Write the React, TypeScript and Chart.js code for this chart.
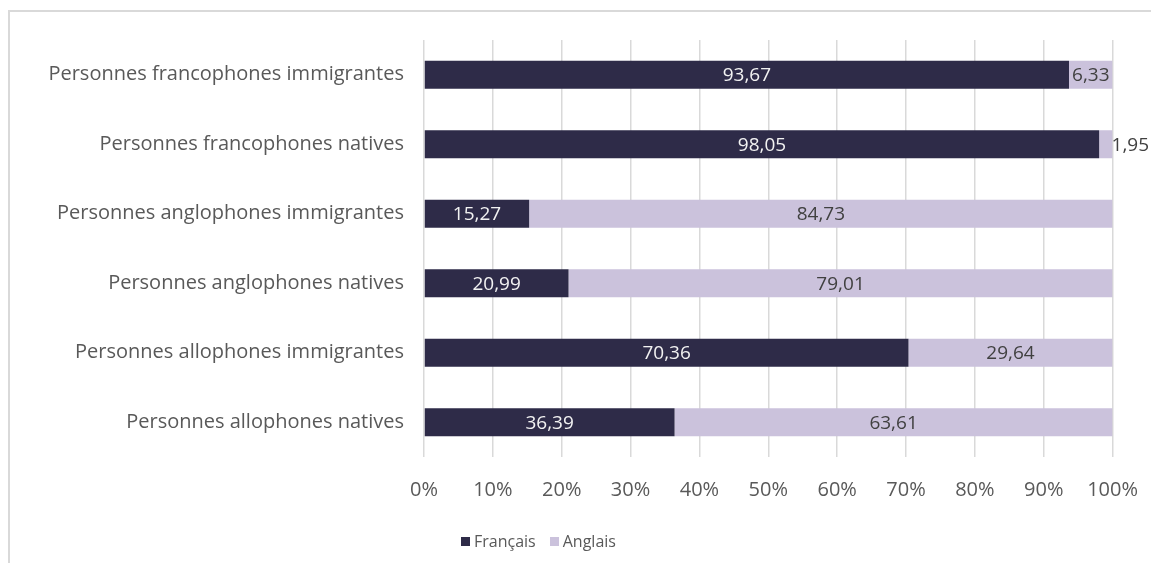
import React, { useEffect, useRef } from "react";
import { Chart, registerables } from "chart.js";

Chart.register(...registerables);

const categories = [
  "Personnes francophones immigrantes",
  "Personnes francophones natives",
  "Personnes anglophones immigrantes",
  "Personnes anglophones natives",
  "Personnes allophones immigrantes",
  "Personnes allophones natives",
];
const francais = [93.67, 98.05, 15.27, 20.99, 70.36, 36.39];
const anglais = [6.33, 1.95, 84.73, 79.01, 29.64, 63.61];
const seriesNames = ["Français", "Anglais"];
const xTicks = [0, 10, 20, 30, 40, 50, 60, 70, 80, 90, 100];

const DARK = "#2e2b48";
const LIGHT = "#cbc2dc";
const TEXT = "#595959";
const FONT = "'Open Sans', Lato, sans-serif";

const labelPlugin = {
  id: "segLabels",
  afterDatasetsDraw(chart: any) {
    const ctx = chart.ctx;
    ctx.save();
    ctx.font = `19px ${FONT}`;
    ctx.textBaseline = "middle";
    chart.data.datasets.forEach((ds: any, i: number) => {
      const meta = chart.getDatasetMeta(i);
      meta.data.forEach((el: any, j: number) => {
        const v = ds.data[j];
        const txt = v.toFixed(2).replace(".", ",");
        const w = ctx.measureText(txt).width;
        const left = Math.min(el.x, el.base);
        const right = Math.max(el.x, el.base);
        if (w > right - left + 6) {
          ctx.fillStyle = "#404040";
          ctx.textAlign = "left";
          ctx.fillText(txt, right - 1, el.y + 1);
        } else {
          ctx.fillStyle = i === 0 ? "#f2f2f2" : "#404040";
          ctx.textAlign = "center";
          ctx.fillText(txt, (left + right) / 2, el.y + 1);
        }
      });
    });
    ctx.restore();
  },
};

export default function App() {
  const ref = useRef<HTMLCanvasElement>(null);
  useEffect(() => {
    if (!ref.current) return;
    const chart = new Chart(ref.current, {
      type: "bar",
      data: {
        labels: categories,
        datasets: [
          { label: seriesNames[0], data: francais, backgroundColor: DARK, barPercentage: 0.4, categoryPercentage: 1 },
          { label: seriesNames[1], data: anglais, backgroundColor: LIGHT, barPercentage: 0.4, categoryPercentage: 1 },
        ],
      },
      options: {
        indexAxis: "y",
        responsive: false,
        animation: false,
        layout: { padding: { top: 40, right: 44, left: 0, bottom: 0 } },
        plugins: { legend: { display: false }, tooltip: { enabled: false } },
        scales: {
          x: {
            stacked: true,
            min: 0,
            max: 100,
            afterBuildTicks(scale: any) {
              scale.ticks = xTicks.map((v) => ({ value: v }));
            },
            afterFit(scale: any) {
              scale.height = 571 - 457;
            },
            grid: { color: "#d9d9d9", lineWidth: 1.5, drawTicks: false },
            border: { display: false },
            ticks: {
              padding: 21,
              color: TEXT,
              font: { family: FONT, size: 20 },
              callback: (v: any) => `${v}%`,
            },
          },
          y: {
            stacked: true,
            afterFit(scale: any) {
              scale.width = 424;
            },
            grid: { display: false, drawTicks: false },
            border: { display: false },
            ticks: { padding: 20, color: TEXT, font: { family: FONT, size: 20 } },
          },
        },
      },
      plugins: [labelPlugin],
    });
    return () => chart.destroy();
  }, []);

  return (
    <div style={{ position: "relative", width: 1159, height: 571, margin: -8, overflow: "hidden", background: "#fff" }}>
      <div style={{ position: "absolute", left: 8, top: 10, right: 0, height: 2, background: "#d9d9d9" }} />
      <div style={{ position: "absolute", left: 8, top: 10, width: 2, bottom: 0, background: "#d9d9d9" }} />
      <canvas ref={ref} width={1159} height={571} style={{ position: "absolute", left: 0, top: 0 }} />
      <div
        style={{ position: "absolute", left: 461, top: 530, height: 22, display: "flex", alignItems: "center", gap: 14, fontFamily: FONT, fontSize: 16, color: TEXT }}
      >
        {seriesNames.map((name, i) => (
          <div key={name} style={{ display: "flex", alignItems: "center" }}>
            <span style={{ width: 9, height: 9, background: i === 0 ? DARK : LIGHT, display: "inline-block", marginRight: 4 }} />
            <span>{name}</span>
          </div>
        ))}
      </div>
    </div>
  );
}
